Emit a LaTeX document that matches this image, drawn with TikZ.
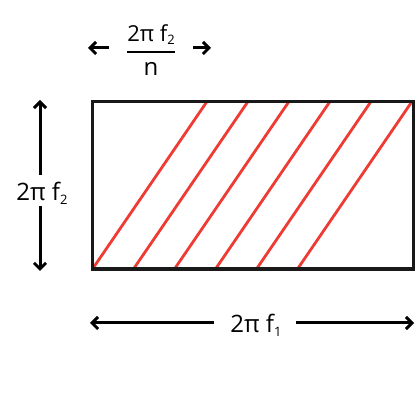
\documentclass[tikz,border=0pt]{standalone}
\usepackage{fontspec}
\setmainfont{Open Sans}
\usetikzlibrary{arrows.meta}
\definecolor{hatchred}{HTML}{EE3B33}
\newcommand\lowidx[1]{\raisebox{-0.3ex}{\fontsize{13}{14}\selectfont #1}}
\begin{document}
\begin{tikzpicture}[x=1pt,y=-1pt,
    dim/.style={line width=3pt,-{Straight Barb[length=6pt,width=12pt]}},
    lbl/.style={font=\fontsize{24}{28}\selectfont,inner sep=0pt},
    hatch/.style={draw=hatchred,line width=2.8pt},
    frame/.style={draw=black!90,line width=3.6pt}]
        \useasboundingbox (0,0) rectangle (416,409);

        \coordinate (sw) at (92.5,269);
        \coordinate (ne) at (413.5,101.5);
        \coordinate (nw) at (92.5,101.5);

        \foreach \i in {0,...,5}
          \draw [hatch] ([xshift=\i*41pt]sw) to ([xshift=\i*41pt+114.5pt]nw);
        \draw [frame] (sw) rectangle (ne);

        \node (height) [lbl] at (42,193) {2π f\lowidx{2}};
        \coordinate (htop) at (40,100);
        \coordinate (hbot) at (40,271);
        \draw [dim,shorten <=7pt] (height.north -| htop) to (htop);
        \draw [dim,shorten <=2pt] (height.south -| hbot) to (hbot);

        \node (step) [lbl] at (151,50) {$\displaystyle{\hbox{\fontsize{22}{26}\selectfont 2π f\lowidx{2}}\above2pt\hbox{\fontsize{24}{28}\selectfont n}}$};
        \coordinate (sleft) at (88,48);
        \coordinate (sright) at (211,48);
        \draw [dim,shorten <=17pt] (step.west |- sleft) to (sleft);
        \draw [dim,shorten <=17pt] (step.east |- sright) to (sright);

        \node (width) [lbl] at (256,325) {2π f\lowidx{1}};
        \coordinate (wleft) at (90,323);
        \coordinate (wright) at (414,323);
        \draw [dim,shorten <=16pt] (width.west |- wleft) to (wleft);
        \draw [dim,shorten <=14pt] (width.east |- wright) to (wright);
      \end{tikzpicture}
\end{document}
